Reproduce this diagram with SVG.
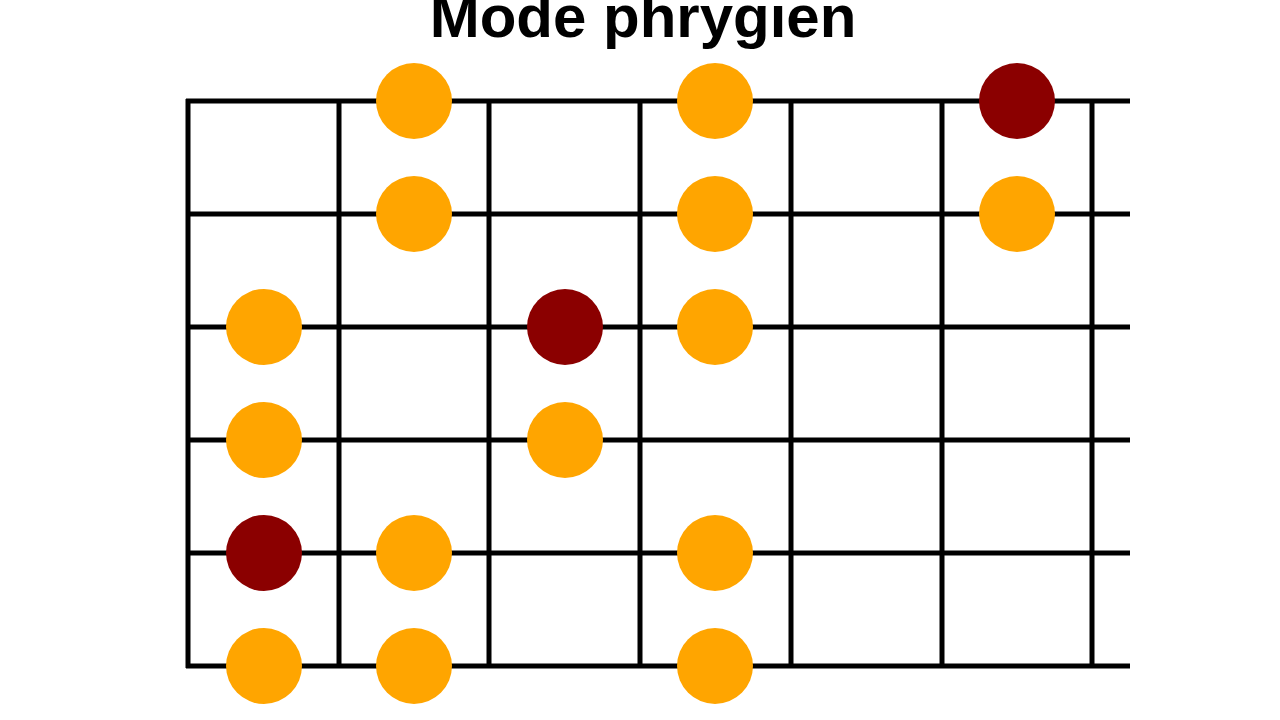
<svg xmlns="http://www.w3.org/2000/svg" width="1280" height="720" viewBox="0 0 1280 720">
<style>
.l{stroke:#000;stroke-width:5;fill:none}
.o{fill:#FFA500}
.r{fill:#8B0000}
text{font-family:"Liberation Sans",Arial,sans-serif;font-weight:bold;font-size:60px;fill:#000}
</style>
<rect width="1280" height="720" fill="#fff"/>
<text x="643" y="37" text-anchor="middle">Mode phrygien</text>
<g id="grid">
<path class="l" d="M186 101H1130M186 214H1130M186 327H1130M186 440H1130M186 553H1130M186 666H1130"/>
<path class="l" d="M188 99V668M339 99V668M489 99V668M640 99V668M791 99V668M942 99V668M1092 99V668"/>
</g>
<g id="dots">
<circle class="o" cx="414" cy="101" r="38"/><circle class="o" cx="715" cy="101" r="38"/><circle class="r" cx="1017" cy="101" r="38"/>
<circle class="o" cx="414" cy="214" r="38"/><circle class="o" cx="715" cy="214" r="38"/><circle class="o" cx="1017" cy="214" r="38"/>
<circle class="o" cx="264" cy="327" r="38"/><circle class="r" cx="565" cy="327" r="38"/><circle class="o" cx="715" cy="327" r="38"/>
<circle class="o" cx="264" cy="440" r="38"/><circle class="o" cx="565" cy="440" r="38"/>
<circle class="r" cx="264" cy="553" r="38"/><circle class="o" cx="414" cy="553" r="38"/><circle class="o" cx="715" cy="553" r="38"/>
<circle class="o" cx="264" cy="666" r="38"/><circle class="o" cx="414" cy="666" r="38"/><circle class="o" cx="715" cy="666" r="38"/>
</g>
</svg>
